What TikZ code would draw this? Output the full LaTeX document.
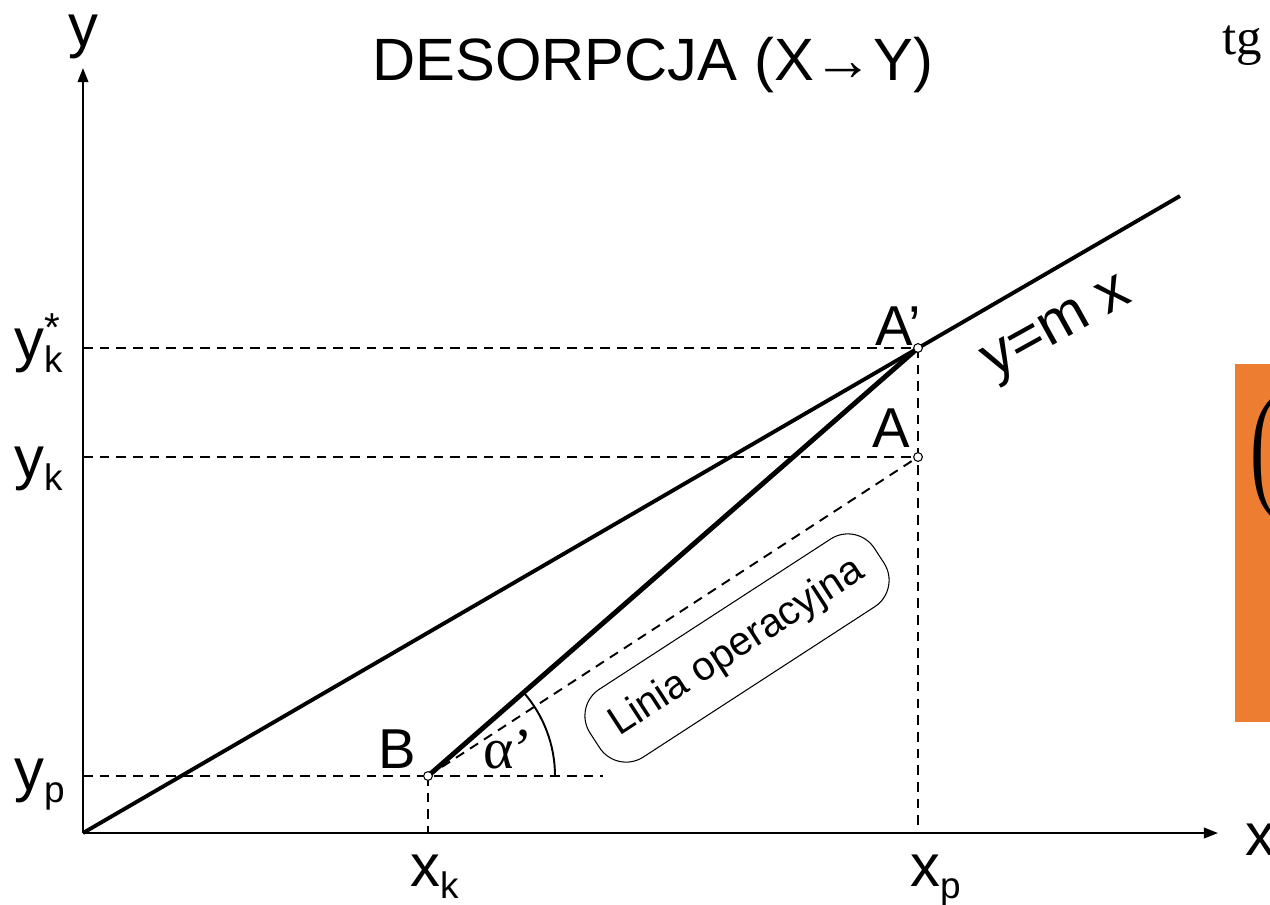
\documentclass[tikz,border=0pt]{standalone}
\usepackage{fontspec}
\setmainfont{Liberation Sans}
\newfontfamily\timesfont{Liberation Serif}
\usetikzlibrary{arrows.meta}
\definecolor{boxorange}{RGB}{237,125,49}
\newcommand\lowk[1]{\raisebox{-7pt}{\fontsize{21}{21}\selectfont #1}}
\newcommand\upstar{\rlap{\raisebox{10.5pt}{\fontsize{23}{23}\selectfont *}}}

\begin{document}
\begin{tikzpicture}[x=0.02cm,y=0.02cm,
  axis/.style={line width=1.1pt,-{Triangle[length=8pt,width=6pt]}},
  guide/.style={line width=1.1pt,dash pattern=on 5.5pt off 4pt},
  dot/.style={circle,draw,fill=white,inner sep=0pt,minimum size=5pt,line width=0.6pt},
  lbl/.style={font=\fontsize{34}{36}\selectfont,inner sep=0pt,anchor=base west},
  ptlbl/.style={font=\fontsize{32}{36}\selectfont,inner sep=0pt,anchor=base west}]
  \useasboundingbox (0,0) rectangle (1270,904);
  \clip (0,0) rectangle (1270,904);
  % main points
  \coordinate (O) at (83,71);
  \coordinate (ytop) at (83,836);
  \coordinate (xend) at (1218,71);
  \coordinate (E) at (1180,708);
  \coordinate (Ap) at (918,556);
  \coordinate (A) at (918,447);
  \coordinate (B) at (428,128);
  \coordinate (ypend) at (603,128);
  % orange box cut by the right edge
  \fill[boxorange] (1235,182) rectangle (1280,540);
  \node[inner sep=0pt] (paren) at (1263,446) {\scalebox{1}[1.75]{\timesfont\fontsize{44}{44}\selectfont(}};
  \node[font=\timesfont\fontsize{29}{32}\selectfont,inner sep=0pt,anchor=base west] (tg) at (1222,849) {tg};
  % axes
  \draw[axis] (O) -- (ytop);
  \draw[axis] (O) -- (xend);
  % dashed guides
  \draw[guide] (O |- Ap) -- (Ap);
  \draw[guide] (O |- A) -- (A);
  \draw[guide] (O |- B) -- (ypend);
  \draw[guide] (B) -- (B |- O);
  \draw[guide] (Ap) -- (Ap |- O);
  % equilibrium line and operating lines
  \draw[line width=2.2pt] (O) -- (E);
  \draw[guide] (B) -- (A);
  \draw[line width=2.8pt] (B) -- (Ap);
  \draw[line width=1.1pt] (B) ++(127,0) arc[start angle=0,end angle=41.1,radius=127];
  \node[dot] (nAp) at (Ap) {};
  \node[dot] (nA) at (A) {};
  \node[dot] (nB) at (B) {};
  % labels
  \node[font=\fontsize{34}{40}\selectfont] (title) at (653,839) {DESORPCJA (X→Y)};
  \node[lbl,anchor=base] (ylab) at (83,857) {y};
  \node[lbl] (xlab) at (1245,49) {x};
  \node[lbl] (yks) at (14,544) {y\upstar\lowk{k}};
  \node[lbl] (yk) at (14,426) {y\lowk{k}};
  \node[lbl] (yp) at (14,114) {y\lowk{p}};
  \node[lbl] (xk) at (410,18) {x\lowk{k}};
  \node[lbl] (xp) at (910,18) {x\lowk{p}};
  \node[ptlbl] (lB) at (378,136) {B};
  \node[ptlbl] (lAp) at (875,559) {A’};
  \node[ptlbl] (lA) at (872,457) {A};
  \node[ptlbl,font=\timesfont\fontsize{33}{36}\selectfont] (alpha) at (483,136) {α’};
  \node[lbl,rotate=29] (eq) at (993,525) {y=m x};
  \node[draw,line width=0.6pt,rounded corners=18pt,rotate=33,minimum width=193pt,minimum height=46pt,
    font=\fontsize{23}{25}\selectfont] (oplab) at (737,256) {Linia operacyjna};
\end{tikzpicture}
\end{document}
